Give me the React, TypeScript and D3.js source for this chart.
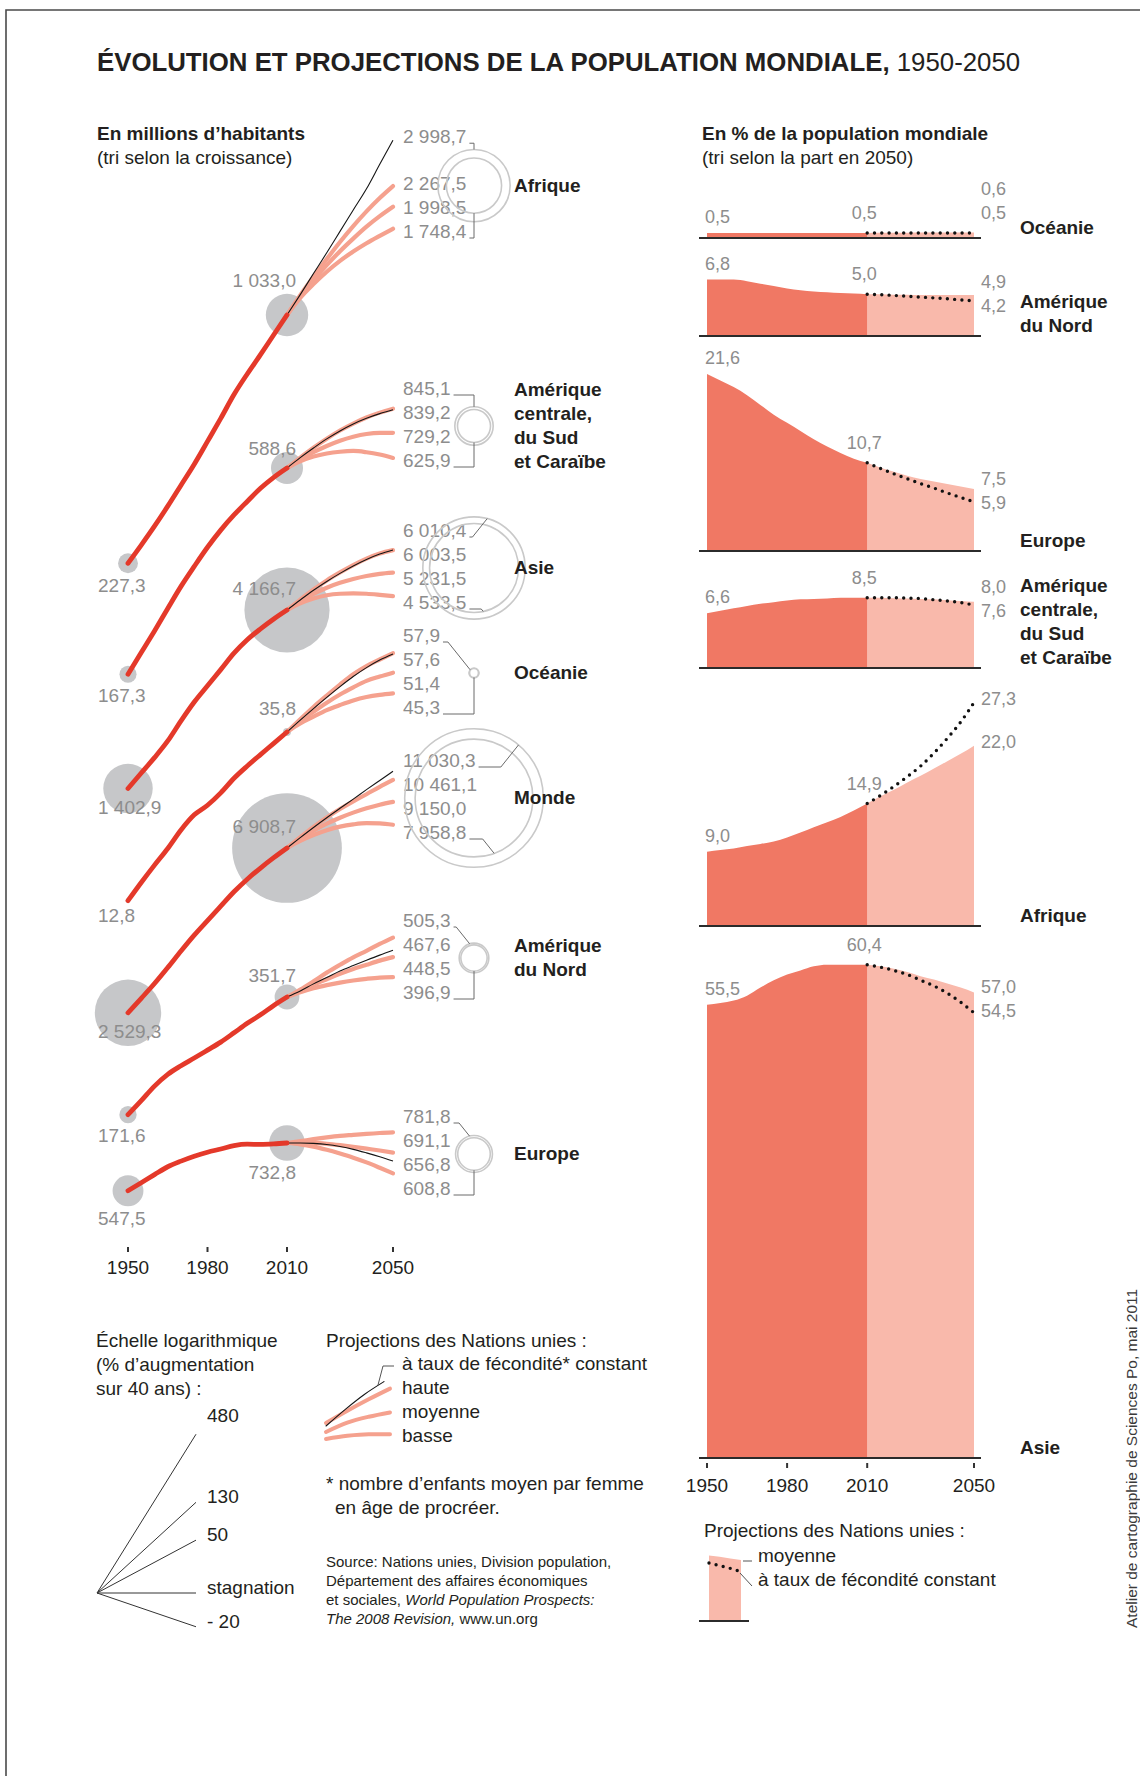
import React, { useEffect, useRef } from 'react'
import * as d3 from 'd3'

const FONT = '"Liberation Sans", Arial, Helvetica, sans-serif'
const W = 1140
const H = 1776

// ---- data ----
const histYears = [1950, 1955, 1960, 1965, 1970, 1975, 1980, 1985, 1990, 1995, 2000, 2005, 2010]
const projYears = [2010, 2015, 2020, 2025, 2030, 2035, 2040, 2045, 2050]
const axisYears = [1950, 1980, 2010, 2050]

// left panel (sorted by growth)
const regionNameLines = [
  ['Afrique'],
  ['Amérique', 'centrale,', 'du Sud', 'et Caraïbe'],
  ['Asie'],
  ['Océanie'],
  ['Monde'],
  ['Amérique', 'du Nord'],
  ['Europe'],
]

// millions of inhabitants
const popHistory = [
  [227.3, 254, 285, 322, 366, 416, 478, 550, 636, 721, 811, 916, 1033.0],
  [167.3, 191, 218, 250, 286, 323, 363, 403, 442, 480, 520, 556, 588.6],
  [1402.9, 1542, 1694, 1875, 2120, 2378, 2626, 2897, 3202, 3475, 3714, 3945, 4166.7],
  [12.8, 14.3, 15.9, 17.6, 19.7, 21.6, 22.9, 24.7, 27.0, 29.1, 31.2, 33.4, 35.8],
  [2529.3, 2763, 3023, 3332, 3686, 4061, 4438, 4846, 5290, 5713, 6115, 6512, 6908.7],
  [171.6, 186.9, 204.3, 219.4, 231.3, 242.4, 254.4, 267.1, 282.7, 299.6, 315.4, 334, 351.7],
  [547.5, 575.2, 604.4, 634.0, 656.2, 676.2, 692.8, 706.4, 721.1, 727.4, 726.6, 728.6, 732.8],
]
const popHigh = [
  [1033.0, 1166, 1305, 1453, 1612, 1776, 1943, 2108, 2267.5],
  [588.6, 627, 666, 704, 740, 772, 801, 825, 845.1],
  [4166.7, 4440, 4720, 4990, 5240, 5480, 5700, 5880, 6003.5],
  [35.8, 38.7, 41.7, 44.7, 47.8, 50.9, 53.5, 55.7, 57.9],
  [6908.7, 7380, 7860, 8320, 8760, 9180, 9590, 10030, 10461.1],
  [351.7, 368, 387, 408, 428, 448, 466, 486, 505.3],
  [732.8, 741, 750, 758, 765, 770, 775, 779, 781.8],
]
const popMedium = [
  [1033.0, 1156, 1276, 1400, 1524, 1646, 1770, 1887, 1998.5],
  [588.6, 620, 648, 673, 695, 712, 724, 729, 729.2],
  [4166.7, 4389, 4596, 4773, 4917, 5032, 5125, 5193, 5231.5],
  [35.8, 38.2, 40.5, 42.8, 45.0, 47.0, 48.9, 50.2, 51.4],
  [6908.7, 7302, 7675, 8012, 8309, 8571, 8801, 8996, 9150.0],
  [351.7, 365, 379, 392, 405, 417, 428, 439, 448.5],
  [732.8, 734, 733, 729, 723, 716, 708, 700, 691.1],
]
const popLow = [
  [1033.0, 1146, 1247, 1345, 1437, 1521, 1600, 1674, 1748.4],
  [588.6, 613, 631, 643, 650, 653, 648, 639, 625.9],
  [4166.7, 4340, 4470, 4560, 4600, 4610, 4600, 4570, 4533.5],
  [35.8, 37.7, 39.3, 40.9, 42.2, 43.4, 44.3, 44.9, 45.3],
  [6908.7, 7220, 7480, 7700, 7870, 7980, 8040, 8030, 7958.8],
  [351.7, 362, 371, 378, 384, 389, 393, 396, 396.9],
  [732.8, 727, 717, 703, 687, 670, 651, 630, 608.8],
]
const popConstant = [
  [1033.0, 1170, 1330, 1510, 1720, 1960, 2230, 2590, 2998.7],
  [588.6, 627, 665, 703, 738, 770, 797, 820, 839.2],
  [4166.7, 4430, 4700, 4960, 5210, 5450, 5670, 5860, 6010.4],
  [35.8, 38.5, 41.3, 44.2, 47.2, 50.2, 53.0, 55.5, 57.6],
  [6908.7, 7360, 7830, 8310, 8800, 9310, 9860, 10430, 11030.3],
  [351.7, 365, 381, 396, 412, 426, 440, 454, 467.6],
  [732.8, 733, 731, 726, 717, 705, 690, 674, 656.8],
]

// right panel (sorted by share in 2050), % of world population
const shareNameLines = [
  ['Océanie'],
  ['Amérique', 'du Nord'],
  ['Europe'],
  ['Amérique', 'centrale,', 'du Sud', 'et Caraïbe'],
  ['Afrique'],
  ['Asie'],
]
const shareHistory = [
  [0.5, 0.5, 0.5, 0.5, 0.5, 0.5, 0.5, 0.5, 0.5, 0.5, 0.5, 0.5, 0.5],
  [6.8, 6.8, 6.8, 6.6, 6.3, 6.0, 5.7, 5.5, 5.35, 5.25, 5.15, 5.1, 5.0],
  [21.6, 20.8, 20.0, 19.0, 17.8, 16.6, 15.6, 14.6, 13.6, 12.7, 11.9, 11.2, 10.7],
  [6.6, 6.9, 7.2, 7.5, 7.75, 7.95, 8.15, 8.3, 8.35, 8.4, 8.5, 8.5, 8.5],
  [9.0, 9.2, 9.4, 9.7, 9.95, 10.25, 10.75, 11.35, 12.0, 12.6, 13.25, 14.05, 14.9],
  [55.5, 55.7, 56.0, 56.6, 57.6, 58.5, 59.2, 59.7, 60.2, 60.4, 60.4, 60.4, 60.4],
]
const shareMedium = [
  [0.5, 0.52, 0.53, 0.53, 0.54, 0.55, 0.56, 0.56, 0.56],
  [5.0, 5.0, 4.95, 4.95, 4.9, 4.9, 4.9, 4.9, 4.9],
  [10.7, 10.1, 9.6, 9.1, 8.7, 8.4, 8.1, 7.8, 7.5],
  [8.5, 8.5, 8.45, 8.4, 8.35, 8.3, 8.2, 8.1, 8.0],
  [14.9, 15.8, 16.6, 17.5, 18.3, 19.2, 20.1, 21.0, 22.0],
  [60.4, 60.2, 59.9, 59.5, 59.0, 58.6, 58.1, 57.6, 57.0],
]
const shareConstant = [
  [0.5, 0.5, 0.5, 0.5, 0.5, 0.5, 0.5, 0.5, 0.5],
  [5.0, 4.95, 4.85, 4.75, 4.65, 4.55, 4.45, 4.3, 4.2],
  [10.7, 10.0, 9.35, 8.75, 8.15, 7.6, 7.0, 6.45, 5.9],
  [8.5, 8.5, 8.5, 8.45, 8.4, 8.25, 8.1, 7.9, 7.6],
  [14.9, 15.9, 17.0, 18.2, 19.5, 21.1, 22.9, 24.9, 27.3],
  [60.4, 60.1, 59.7, 59.2, 58.5, 57.8, 56.9, 55.8, 54.5],
]

// legends
const fanPercents = [480, 130, 50, 0, -20]
const fanLabels = ['480', '130', '50', 'stagnation', '- 20']
const variantLabels = ['à taux de fécondité* constant', 'haute', 'moyenne', 'basse']
const glyphConstant = [100, 111, 122, 132]
const glyphHaute = [100, 108, 116, 124]
const glyphMoyenne = [100, 106, 110, 113]
const glyphBasse = [100, 102, 103, 103]
const glyphShareMoyenne = [7.9, 7.75, 7.55, 7.35]
const glyphShareConstant = [7.0, 6.7, 6.4, 6.05]

// ---- layout ----
const LOG_PX = 164 // px per natural log unit
const leftAnchor = [315, 468, 610, 732, 848, 997, 1143]
const leftLabelBottom = [238, 467, 609, 714, 839, 999, 1195]
const left2010Dy = [-28, -13, -15, -17, -15, -15, 36]
const linkTop: [string, number][] = [['v', 0], ['v', 0], ['d', 15], ['d', -50], ['d', 40], ['d', -17], ['d', -14]]
const linkBottom: [string, number][] = [['v', 180], ['v', 180], ['d', 168], ['v', 180], ['d', 160], ['v', 180], ['v', 180]]
const shareBase = [237, 335, 550, 667, 925, 1457]
const LABEL_X = 403
const RING_X = 474
const NAME_X = 514

const C = {
  red: '#e4392a',
  pink: '#f5a18e',
  disc: '#c6c7c9',
  ring: '#c9c9c9',
  label: '#8d8d8d',
  ink: '#231f20',
  dark: '#f07864',
  light: '#f9b9ab',
}

const fr = d3.formatLocale({ decimal: ',', thousands: ' ', grouping: [3], currency: ['', ''] })
const fmt = fr.format(',.1f')

export default function App() {
  const ref = useRef<SVGSVGElement>(null)

  useEffect(() => {
    if (!ref.current) return
    const svg = d3.select(ref.current)
    svg.selectAll('*').remove()

    const text = (
      parent: any,
      x: number,
      y: number,
      s: string,
      size: number,
      fill = C.ink,
      weight = 400,
      anchor = 'start'
    ) =>
      parent
        .append('text')
        .attr('x', x)
        .attr('y', y)
        .attr('font-size', size)
        .attr('font-weight', weight)
        .attr('fill', fill)
        .attr('text-anchor', anchor)
        .text(s)

    // frame
    svg
      .append('path')
      .attr('d', `M6,${H + 20}V10H${W + 20}`)
      .attr('fill', 'none')
      .attr('stroke', '#4a4a4a')
      .attr('stroke-width', 1.6)

    // title
    const title = svg.append('text').attr('x', 97).attr('y', 71).attr('font-size', 25.8).attr('fill', C.ink)
    title.append('tspan').attr('font-weight', 700).text('ÉVOLUTION ET PROJECTIONS DE LA POPULATION MONDIALE,')
    title.append('tspan').attr('font-weight', 400).text(' 1950-2050')

    // headers
    text(svg, 97, 140, 'En millions d\u2019habitants', 19, C.ink, 700)
    text(svg, 97, 164, '(tri selon la croissance)', 19)
    text(svg, 702, 140, 'En % de la population mondiale', 19, C.ink, 700)
    text(svg, 702, 164, '(tri selon la part en 2050)', 19)

    // ---------- left panel ----------
    const xL = d3.scaleLinear().domain([1950, 2050]).range([128, 393])
    const rScale = d3.scaleSqrt().domain([0, 10000]).range([0, 66])
    const lineGen = d3.line<[number, number]>().curve(d3.curveMonotoneX)
    const gL = svg.append('g')

    regionNameLines.forEach((lines, i) => {
      const hist = popHistory[i]
      const p0 = hist[0]
      const p1 = hist[hist.length - 1]
      const a = leftAnchor[i]
      const y = d3.scaleLog().domain([p1, p1 * Math.E]).range([a, a - LOG_PX])
      const g = gL.append('g')

      const r0 = rScale(p0)
      const r1 = rScale(p1)
      g.append('circle').attr('cx', xL(1950)).attr('cy', y(p0)).attr('r', r0).attr('fill', C.disc)
      g.append('circle').attr('cx', xL(2010)).attr('cy', y(p1)).attr('r', r1).attr('fill', C.disc)

      const proj = (s: number[]) => lineGen(projYears.map((yr, j) => [xL(yr), y(s[j])] as [number, number]))
      ;[popHigh, popMedium, popLow].forEach((s) =>
        g
          .append('path')
          .attr('d', proj(s[i]))
          .attr('fill', 'none')
          .attr('stroke', C.pink)
          .attr('stroke-width', 4.2)
          .attr('stroke-linecap', 'round')
      )
      g.append('path')
        .attr('d', proj(popConstant[i]))
        .attr('fill', 'none')
        .attr('stroke', '#151515')
        .attr('stroke-width', 1.1)
      g.append('path')
        .attr('d', lineGen(histYears.map((yr, j) => [xL(yr), y(hist[j])] as [number, number])))
        .attr('fill', 'none')
        .attr('stroke', C.red)
        .attr('stroke-width', 4.8)
        .attr('stroke-linecap', 'round')

      // start / 2010 values
      text(g, 98, y(p0) + (r0 > 20 ? 25 : r0 + 19), fmt(p0), 19, C.label)
      text(g, 296, y(p1) + left2010Dy[i], fmt(p1), 19, C.label, 400, 'end')

      // 2050 values
      const ends = [popHigh, popMedium, popLow, popConstant]
        .map((s) => s[i][s[i].length - 1])
        .sort((m, n) => n - m)
      const lb = leftLabelBottom[i]
      const ys = [Math.min(lb - 72, y(ends[0]) + 3), lb - 48, lb - 24, lb]
      const nodes = ends.map((v, k) => text(g, LABEL_X, ys[k], fmt(v), 19, C.label))

      // ring
      const cx = RING_X
      const cy = (ys[0] + ys[3]) / 2 - 5
      const rO = rScale(ends[0])
      const rI = rScale(ends[3])
      ;[rO, rI].forEach((r) =>
        g.append('circle').attr('cx', cx).attr('cy', cy).attr('r', r).attr('fill', 'none').attr('stroke', C.ring).attr('stroke-width', 1.6)
      )

      const link = (node: any, yb: number, r: number, spec: [string, number]) => {
        const x0 = LABEL_X + (node.node() as SVGTextElement).getComputedTextLength() + 3
        const rad = (spec[1] * Math.PI) / 180
        const px = cx + r * Math.sin(rad)
        const py = cy - r * Math.cos(rad)
        let d: string
        if (spec[0] === 'v') d = `M${x0},${yb}H${px}V${py}`
        else {
          const hx = Math.max(x0, px - 0.8 * Math.abs(py - yb))
          d = `M${x0},${yb}H${hx}L${px},${py}`
        }
        g.append('path').attr('d', d).attr('fill', 'none').attr('stroke', '#6a6a6a').attr('stroke-width', 1)
      }
      link(nodes[0], ys[0], rO, linkTop[i])
      link(nodes[3], ys[3], rI, linkBottom[i])

      // region name
      lines.forEach((l, k) => text(g, NAME_X, cy + 6 - (lines.length - 1) * 12 + k * 24, l, 19, C.ink, 700))
    })

    // left axis
    axisYears.forEach((yr) => {
      svg.append('line').attr('x1', xL(yr)).attr('x2', xL(yr)).attr('y1', 1247).attr('y2', 1252).attr('stroke', '#333').attr('stroke-width', 2)
      text(svg, xL(yr), 1274, String(yr), 19, C.ink, 400, 'middle')
    })

    // ---------- right panel ----------
    const xR = d3.scaleLinear().domain([1950, 2050]).range([707, 974])
    shareNameLines.forEach((lines, j) => {
      const base = shareBase[j]
      const y = d3.scaleLinear().domain([0, 10]).range([base, base - 81.5])
      const g = svg.append('g')
      const area = d3
        .area<[number, number]>()
        .x((d) => d[0])
        .y0(base)
        .y1((d) => d[1])
        .curve(d3.curveMonotoneX)
      const h = shareHistory[j]
      const m = shareMedium[j]
      const c = shareConstant[j]
      g.append('path').attr('d', area(projYears.map((yr, k) => [xR(yr), y(m[k])] as [number, number]))).attr('fill', C.light)
      g.append('path').attr('d', area(histYears.map((yr, k) => [xR(yr), y(h[k])] as [number, number]))).attr('fill', C.dark)
      g.append('line').attr('x1', 699).attr('x2', 981).attr('y1', base + 1).attr('y2', base + 1).attr('stroke', '#2b2b2b').attr('stroke-width', 2.2)
      g.append('path')
        .attr('d', lineGen(projYears.map((yr, k) => [xR(yr), y(c[k])] as [number, number])))
        .attr('fill', 'none')
        .attr('stroke', '#111')
        .attr('stroke-width', 3.4)
        .attr('stroke-linecap', 'round')
        .attr('stroke-dasharray', '0 7.3')

      text(g, 705, y(h[0]) - 10, fmt(h[0]), 18, C.label)
      text(g, xR(2010) - 3, y(h[h.length - 1]) - 14, fmt(h[h.length - 1]), 18, C.label, 400, 'middle')

      // 2050 labels: higher value on top, min spacing 24
      const vm = m[m.length - 1]
      const vc = c[c.length - 1]
      const pair = [vm, vc].sort((p, q) => q - p)
      let up = y(pair[0]) + 2
      let lo = y(pair[1]) + 2
      if (lo - up < 24) {
        const mid = (up + lo) / 2
        up = mid - 12
        lo = mid + 12
      }
      if (lo > base - 18) {
        const s = lo - (base - 18)
        up -= s
        lo -= s
      }
      text(g, 981, up, fmt(pair[0]), 18, C.label)
      text(g, 981, lo, fmt(pair[1]), 18, C.label)

      lines.forEach((l, k) => text(g, 1020, base - 3 - (lines.length - 1 - k) * 24, l, 19, C.ink, 700))
    })

    // right axis
    axisYears.forEach((yr) => {
      svg.append('line').attr('x1', xR(yr)).attr('x2', xR(yr)).attr('y1', 1463).attr('y2', 1468).attr('stroke', '#333').attr('stroke-width', 2)
      text(svg, xR(yr), 1492, String(yr), 19, C.ink, 400, 'middle')
    })

    // ---------- legend: log scale fan ----------
    text(svg, 96, 1347, 'Échelle logarithmique', 19)
    text(svg, 96, 1371, '(% d\u2019augmentation', 19)
    text(svg, 96, 1395, 'sur 40 ans) :', 19)
    const fanScale = d3.scalePow().exponent(0.75).domain([0, 1]).range([0, 104])
    const fx0 = 97
    const fy0 = 1593
    const fx1 = 196
    fanPercents.forEach((p, k) => {
      const l = Math.log(1 + p / 100)
      const ye = fy0 - Math.sign(l) * fanScale(Math.abs(l))
      svg.append('line').attr('x1', fx0).attr('y1', fy0).attr('x2', fx1).attr('y2', ye).attr('stroke', '#333').attr('stroke-width', 1)
      text(svg, 207, k === 0 ? ye - 12 : ye + 1, fanLabels[k], 19)
    })

    // ---------- legend: projections (left) ----------
    text(svg, 326, 1347, 'Projections des Nations unies :', 19)
    variantLabels.forEach((l, k) => text(svg, 402, 1370 + k * 24, l, 19))
    const gx = d3.scaleLinear().domain([0, 3]).range([326, 390])
    const glyph = (vals: number[], y0: number, color: string, w: number, xmax = 390) => {
      const gy = d3.scaleLog().domain([vals[0], vals[0] * Math.E]).range([y0, y0 - 160])
      const gxx = gx.copy().range([326, xmax])
      svg
        .append('path')
        .attr('d', lineGen(vals.map((v, k) => [gxx(k), gy(v)] as [number, number])))
        .attr('fill', 'none')
        .attr('stroke', color)
        .attr('stroke-width', w)
        .attr('stroke-linecap', 'round')
    }
    glyph(glyphHaute, 1423, C.pink, 4)
    glyph(glyphMoyenne, 1432, C.pink, 4)
    glyph(glyphBasse, 1439, C.pink, 4)
    glyph(glyphConstant, 1426, '#151515', 1.1, 384)
    svg.append('path').attr('d', 'M394,1366H383L378,1385').attr('fill', 'none').attr('stroke', '#555').attr('stroke-width', 1)

    text(svg, 326, 1490, '* nombre d\u2019enfants moyen par femme', 19)
    text(svg, 335, 1514, 'en âge de procréer.', 19)

    const src = [
      [['Source: Nations unies, Division population,', false]],
      [['Département des affaires économiques', false]],
      [['et sociales, ', false], ['World Population Prospects:', true]],
      [['The 2008 Revision,', true], [' www.un.org', false]],
    ] as [string, boolean][][]
    src.forEach((parts, k) => {
      const t = svg.append('text').attr('x', 326).attr('y', 1567 + k * 19).attr('font-size', 15).attr('fill', C.ink)
      parts.forEach(([s, it]) => t.append('tspan').attr('font-style', it ? 'italic' : 'normal').text(s))
    })

    // ---------- legend: projections (right) ----------
    text(svg, 704, 1537, 'Projections des Nations unies :', 19)
    const lgBase = 1620
    const lgY = d3.scaleLinear().domain([0, 10]).range([lgBase, lgBase - 81.5])
    const lgX = d3.scaleLinear().domain([0, 3]).range([709, 741])
    const lgArea = d3
      .area<[number, number]>()
      .x((d) => d[0])
      .y0(lgBase)
      .y1((d) => d[1])
    svg.append('path').attr('d', lgArea(glyphShareMoyenne.map((v, k) => [lgX(k), lgY(v)] as [number, number]))).attr('fill', C.light)
    svg.append('line').attr('x1', 699).attr('x2', 749).attr('y1', lgBase + 1).attr('y2', lgBase + 1).attr('stroke', '#2b2b2b').attr('stroke-width', 2.2)
    const lgX2 = lgX.copy().range([709, 738])
    svg
      .append('path')
      .attr('d', lineGen(glyphShareConstant.map((v, k) => [lgX2(k), lgY(v)] as [number, number])))
      .attr('fill', 'none')
      .attr('stroke', '#111')
      .attr('stroke-width', 3.4)
      .attr('stroke-linecap', 'round')
      .attr('stroke-dasharray', '0 7.3')
    svg.append('line').attr('x1', 743).attr('x2', 752).attr('y1', 1561).attr('y2', 1561).attr('stroke', '#555').attr('stroke-width', 1)
    svg.append('line').attr('x1', 740).attr('x2', 752).attr('y1', 1573).attr('y2', 1586).attr('stroke', '#555').attr('stroke-width', 1)
    text(svg, 758, 1562, 'moyenne', 19)
    text(svg, 758, 1586, 'à taux de fécondité constant', 19)

    // credit
    svg
      .append('text')
      .attr('transform', 'translate(1137,1628) rotate(-90)')
      .attr('font-size', 15.5)
      .attr('fill', '#3a3a3a')
      .text('Atelier de cartographie de Sciences Po, mai 2011')
  }, [])

  return (
    <svg
      ref={ref}
      width={W}
      height={H}
      fontFamily={FONT}
      style={{ position: 'absolute', left: 0, top: 0, background: '#fff' }}
    />
  )
}
